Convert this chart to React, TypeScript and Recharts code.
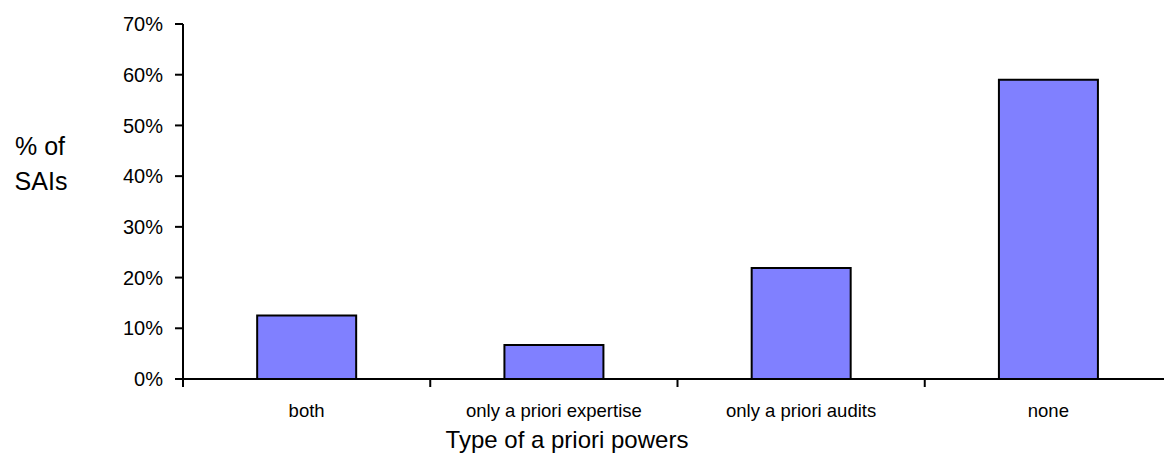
import { Bar, BarChart, XAxis, YAxis } from "recharts";

const categories = ["both", "only a priori expertise", "only a priori audits", "none"];
const shareOfSais = [12.5, 6.7, 21.9, 59.0];
const yTicks = [0, 10, 20, 30, 40, 50, 60, 70];

const data = categories.map((name, i) => ({ name, value: shareOfSais[i] }));

const FONT = "'Liberation Sans', Arial, sans-serif";

function CategoryTick(props: any) {
  const { x, y, payload } = props;
  const half = payload?.offset ?? 123.6;
  return (
    <g>
      <line x1={x - half} x2={x - half} y1={y} y2={y + 8} stroke="#000" strokeWidth={2} />
      <text x={x} y={y + 38} textAnchor="middle" fontSize={18.5} fontFamily={FONT} fill="#000">
        {payload.value}
      </text>
    </g>
  );
}

export default function App() {
  return (
    <div
      style={{
        position: "fixed",
        left: 0,
        top: 0,
        width: 1164,
        height: 466,
        overflow: "hidden",
        background: "#fff",
      }}
    >
      <BarChart
        width={1172}
        height={466}
        data={data}
        margin={{ top: 24, right: 0, left: 0, bottom: 0 }}
        barCategoryGap="30%"
      >
        <XAxis
          dataKey="name"
          height={87}
          tickLine={false}
          tickSize={0}
          tickMargin={0}
          axisLine={{ stroke: "#000", strokeWidth: 2 }}
          tick={<CategoryTick />}
          interval={0}
          label={{
            content: () => (
              <text x={567} y={448} textAnchor="middle" fontSize={24} fontFamily={FONT} fill="#000">
                Type of a priori powers
              </text>
            ),
          }}
        />
        <YAxis
          width={183}
          domain={[0, 70]}
          ticks={yTicks}
          interval={0}
          tickSize={8}
          tickMargin={12}
          tickFormatter={(v) => `${v}%`}
          tick={{ fontSize: 20, fontFamily: FONT, fill: "#000" }}
          tickLine={{ stroke: "#000", strokeWidth: 2 }}
          axisLine={{ stroke: "#000", strokeWidth: 2 }}
          label={{
            content: () => (
              <text textAnchor="middle" fontSize={25} fontFamily={FONT} fill="#000">
                <tspan x={40} y={155}>% of</tspan>
                <tspan x={41} y={190}>SAIs</tspan>
              </text>
            ),
          }}
        />
        <Bar dataKey="value" fill="#8080FF" stroke="#000" strokeWidth={2} isAnimationActive={false} />
      </BarChart>
    </div>
  );
}
